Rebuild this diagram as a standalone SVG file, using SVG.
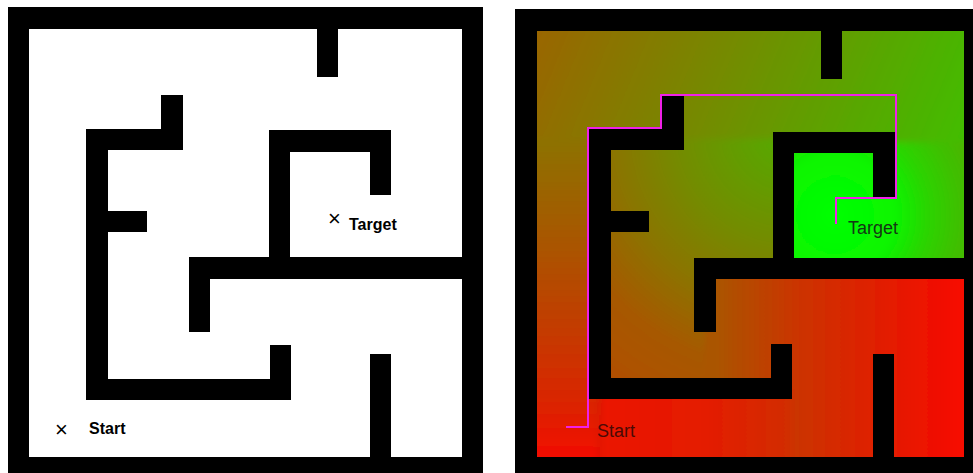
<svg xmlns="http://www.w3.org/2000/svg" width="973" height="473" viewBox="0 0 973 473">
  <style>
    .w { fill: #000000; }
    .lbl1 { font-family: "Liberation Sans", Arial, sans-serif; font-size: 16px; font-weight: bold; fill: #000000; }
    .mark { font-family: "Liberation Sans", Arial, sans-serif; font-size: 22px; fill: #000000; }
    .lbl2 { font-family: "Liberation Sans", Arial, sans-serif; font-size: 18px; }
    .path { fill: none; stroke: #f020e8; stroke-width: 2; stroke-linejoin: miter; }
  </style>
  <defs>
    <clipPath id="inner">
      <rect x="537" y="31" width="427" height="426"/>
    </clipPath>
    <filter id="soft" x="-5%" y="-5%" width="110%" height="110%">
      <feGaussianBlur stdDeviation="3"/>
    </filter>
    <linearGradient id="gTop" gradientUnits="userSpaceOnUse" x1="964" y1="141" x2="493" y2="-52">
      <stop offset="0" stop-color="#42bd00"/>
      <stop offset="1" stop-color="#a85700"/>
    </linearGradient>
    <radialGradient id="gTgt" gradientUnits="userSpaceOnUse" cx="835" cy="215" r="150">
      <stop offset="0" stop-color="#00ff00"/>
      <stop offset="0.4" stop-color="#0af500"/>
      <stop offset="0.62" stop-color="#2bd400"/>
      <stop offset="0.8" stop-color="#3cc200"/>
      <stop offset="1" stop-color="#4cb300"/>
    </radialGradient>
    <radialGradient id="gMid" gradientUnits="userSpaceOnUse" cx="790" cy="130" r="320">
      <stop offset="0" stop-color="#52ad00"/>
      <stop offset="0.35" stop-color="#738c00"/>
      <stop offset="0.55" stop-color="#8a7500"/>
      <stop offset="0.75" stop-color="#a65900"/>
      <stop offset="0.95" stop-color="#b04f00"/>
      <stop offset="1" stop-color="#b34d00"/>
    </radialGradient>
    <linearGradient id="gLeft" gradientUnits="userSpaceOnUse" x1="0" y1="141" x2="0" y2="457">
      <stop offset="0" stop-color="#8d7200"/>
      <stop offset="0.345" stop-color="#ab5400"/>
      <stop offset="0.816" stop-color="#d92600"/>
      <stop offset="1" stop-color="#f20d00"/>
    </linearGradient>
    <linearGradient id="gBot" gradientUnits="userSpaceOnUse" x1="599" y1="0" x2="792" y2="0">
      <stop offset="0" stop-color="#eb1400"/>
      <stop offset="0.55" stop-color="#e41c00"/>
      <stop offset="1" stop-color="#d12e00"/>
    </linearGradient>
    <linearGradient id="gRoom" gradientUnits="userSpaceOnUse" x1="716" y1="0" x2="964" y2="0">
      <stop offset="0" stop-color="#aa5500"/>
      <stop offset="0.34" stop-color="#cc3300"/>
      <stop offset="1" stop-color="#f70800"/>
    </linearGradient>
  </defs>

  <rect x="0" y="0" width="973" height="473" fill="#ffffff"/>

  <!-- Left maze -->
  <g id="maze-left">
    <rect class="w" x="8" y="7" width="475" height="466"/>
    <rect x="29" y="29" width="433" height="428" fill="#ffffff"/>
    <rect class="w" x="317" y="29" width="21" height="48"/>
    <rect class="w" x="161" y="95" width="22" height="55"/>
    <rect class="w" x="86" y="129" width="97" height="21"/>
    <rect class="w" x="86" y="129" width="22" height="271"/>
    <rect class="w" x="108" y="211" width="39" height="21"/>
    <rect class="w" x="86" y="379" width="205" height="21"/>
    <rect class="w" x="270" y="345" width="21" height="55"/>
    <rect class="w" x="269" y="130" width="122" height="22"/>
    <rect class="w" x="269" y="130" width="21" height="149"/>
    <rect class="w" x="370" y="130" width="21" height="65"/>
    <rect class="w" x="189" y="257" width="273" height="22"/>
    <rect class="w" x="189" y="257" width="21" height="75"/>
    <rect class="w" x="370" y="354" width="21" height="103"/>
  </g>
  <g id="labels-left">
    <text class="mark" x="328" y="226">×</text>
    <text class="lbl1" x="349" y="230">Target</text>
    <text class="mark" x="55" y="437">×</text>
    <text class="lbl1" x="89" y="434">Start</text>
  </g>

  <!-- Right maze -->
  <g id="maze-right">
    <rect class="w" x="515" y="9" width="458" height="464"/>
    <g id="field" clip-path="url(#inner)">
      <g filter="url(#soft)">
        <rect x="525" y="19" width="451" height="123" fill="url(#gTop)"/>
        <rect x="783.5" y="142" width="192.5" height="126.5" fill="url(#gTgt)"/>
        <rect x="599.5" y="139" width="184" height="249.5" fill="url(#gMid)"/>
        <rect x="525" y="139" width="74.5" height="331" fill="url(#gLeft)"/>
        <rect x="705" y="268.5" width="271" height="201.5" fill="url(#gRoom)"/>
        <rect x="599.5" y="388.5" width="192.5" height="81.5" fill="url(#gBot)"/>
      </g>
    </g>
    <rect class="w" x="821" y="31" width="21" height="48"/>
    <rect class="w" x="662" y="95" width="22" height="55"/>
    <rect class="w" x="588" y="128" width="96" height="22"/>
    <rect class="w" x="588" y="128" width="23" height="271"/>
    <rect class="w" x="611" y="211" width="38" height="21"/>
    <rect class="w" x="588" y="378" width="204" height="21"/>
    <rect class="w" x="771" y="344" width="21" height="55"/>
    <rect class="w" x="773" y="132" width="122" height="21"/>
    <rect class="w" x="773" y="132" width="21" height="146"/>
    <rect class="w" x="873" y="132" width="22" height="66"/>
    <rect class="w" x="694" y="258" width="270" height="21"/>
    <rect class="w" x="694" y="258" width="22" height="74"/>
    <rect class="w" x="873" y="354" width="21" height="103"/>
  </g>
  <g id="connectors">
    <polyline class="path" points="566,427 588,427 588,128 661,128 661,95 896,95 896,198 836,198 836,224"/>
  </g>
  <g id="labels-right">
    <text class="lbl2" x="848" y="234" fill="#143814">Target</text>
    <text class="lbl2" x="597" y="437" fill="#4a0a06">Start</text>
  </g>
</svg>
